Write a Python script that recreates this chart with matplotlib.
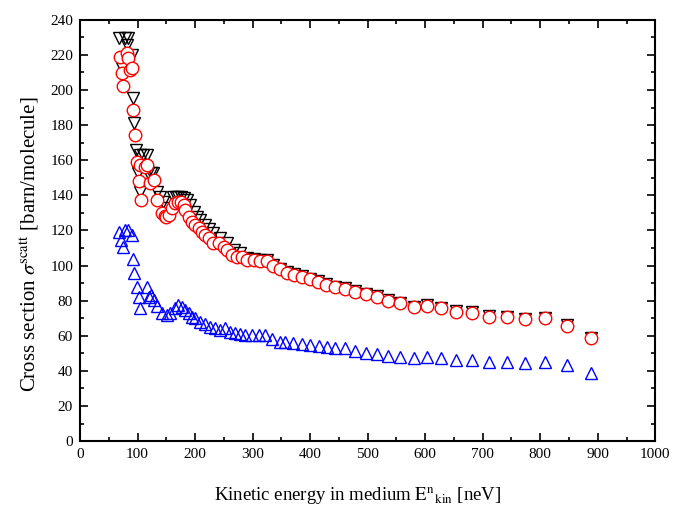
import matplotlib
matplotlib.use('Agg')
import matplotlib.pyplot as plt
from matplotlib.ticker import MultipleLocator

plt.rcParams['font.family'] = ['Liberation Serif', 'DejaVu Serif']
plt.rcParams['mathtext.fontset'] = 'stix'

# black open down-triangles (mostly hidden behind the red circles above ~290 neV)
e_black = [68.5, 72.6, 78.3, 81.3, 84, 91, 92, 94.5, 97, 100, 101.5, 104.5, 104.5, 110, 117,
           119, 124, 127.6, 133.5, 139.3, 145, 150, 162.4, 167, 171, 175, 180, 185.7, 191.5,
           197.3, 203, 209, 217.6, 223.4, 232, 243.7, 255.4, 267, 278.6, 290, 301.7, 313, 325,
           335, 347, 360, 372.6, 386, 399, 413, 428, 444, 461, 478.5, 497, 516, 536, 556.5,
           580, 603, 628, 653, 681, 711, 742, 774, 809, 846, 888]
s_black = [229.6, 212.5, 229.6, 225.8, 229.6, 220, 195.4, 181.1, 165.9, 157.4, 152.6, 163, 142.1,
           163, 163, 152.6, 152.6, 152.6, 142.1, 139.3, 136.4, 133, 139.3, 139.3, 139.3, 139.3,
           138.4, 137.4, 134.5, 130.7, 127.9, 126, 123.1, 120.7, 118.4, 115.6, 112.7, 108.9, 107,
           104.2, 103.8, 103.2, 103.2, 100.2, 98.3, 96.4, 95, 94, 92.6, 91.2, 89.3, 88, 87,
           85.5, 84, 82.6, 80.3, 78.8, 76.6, 77.3, 76, 74.1, 73.5, 71.3, 70.9, 69.8, 70.3,
           66.1, 59]

# red open circles
e_red = [69.6, 72.5, 74, 81, 84, 87, 90, 91.7, 95.7, 98.7, 104.5, 103, 105.6, 113, 117, 121,
         128, 133.5, 142, 147, 150, 154, 159.6, 165.4, 171, 175.3, 180, 183, 188.6, 194.5, 200,
         206, 212, 217.6, 225, 232, 241, 249.5, 255.4, 264, 272.8, 281.5, 290, 301.7, 313, 325,
         335, 347, 360, 372.6, 386, 399, 413, 428, 444, 461, 478.5, 497, 516, 536, 556.5, 580,
         603, 628, 653, 681, 711, 742, 774, 809, 846, 888]
s_red = [219, 209.6, 202.4, 221, 218, 211.5, 212.5, 188.7, 174.5, 159.2, 157, 148, 137.4, 156.4,
         157.4, 147, 148.5, 137.4, 129.8, 128, 127.9, 128.8, 132.7, 135.5, 136.4, 136.4, 134.5,
         131.7, 127.9, 125, 123.1, 121.3, 119.3, 117.4, 115.6, 112.7, 112.7, 110.8, 108.9, 106,
         105, 104.7, 103.4, 103.4, 102.8, 102.8, 99.8, 97.9, 96, 94.6, 93.7, 92.2, 90.8, 88.9,
         87.6, 86.6, 85.1, 83.6, 82.2, 79.9, 78.4, 76.2, 76.9, 75.6, 73.7, 73.1, 70.9, 70.5,
         69.4, 69.9, 65.7, 58.6]

# blue open up-triangles
e_blue = [68.5, 70.8, 74.3, 78.3, 84, 90, 92.8, 94, 98.6, 103.3, 104.5, 116, 120.6, 123, 128.8,
          133.5, 142, 151, 156.7, 165.4, 171, 177, 182.8, 188.6, 194.5, 200, 209, 217.6, 226.3,
          235, 243.7, 252.4, 261, 270, 278.6, 287, 299, 310.4, 322, 333.7, 348, 357, 371, 386,
          400, 415, 429.5, 444, 461, 478.5, 497, 516, 536, 556.5, 580, 603, 628, 653, 681, 711,
          742, 774, 809, 846, 888]
s_blue = [119.3, 114.6, 110.4, 120.3, 120.3, 117.4, 103.6, 96, 87.6, 81.9, 75.6, 87.6, 81.9, 83.2,
          80.4, 77, 72.8, 71.8, 72.8, 75.6, 77.5, 76.6, 74.7, 72.8, 70.9, 70, 68, 66.7, 65.2,
          64.3, 63.3, 64.3, 62.3, 61.4, 61, 60.4, 60.4, 60.4, 60.4, 58, 56.6, 56.6, 55.7, 55.3,
          54.7, 54.3, 53.8, 52.9, 52.9, 51.5, 50.3, 49.6, 48.5, 48.1, 47.1, 48.1, 47.1, 46.2,
          46.2, 45.2, 45.2, 44.6, 45.2, 43.3, 38.9]

fig = plt.figure(figsize=(6.84, 5.07), dpi=100)
ax = fig.add_axes([0.117, 0.130, 0.841, 0.831])

ax.plot(e_black, s_black, 'v', ms=9, mfc='none', mec='black', mew=1.0, ls='none')
ax.plot(e_red, s_red, 'o', ms=9, mfc='white', mec='red', mew=1.0, ls='none')
ax.plot(e_blue, s_blue, '^', ms=9, mfc='none', mec='blue', mew=1.0, ls='none')

ax.set_xlim(0, 1000)
ax.set_ylim(0, 240)
ax.xaxis.set_major_locator(MultipleLocator(100))
ax.xaxis.set_minor_locator(MultipleLocator(50))
ax.yaxis.set_major_locator(MultipleLocator(20))
ax.yaxis.set_minor_locator(MultipleLocator(10))
ax.tick_params(which='both', direction='in', top=True, right=True, labelsize=11, width=1.2)
ax.tick_params(which='major', length=6, pad=5)
ax.tick_params(which='minor', length=3)
for sp in ax.spines.values():
    sp.set_linewidth(1.5)

ax.set_xlabel(r'Kinetic energy in medium $\mathrm{E^{n}{}_{kin}}$ [neV]', fontsize=13.5)
ax.set_ylabel(r'Cross section $\sigma^{\mathrm{scatt}}$ [barn/molecule]', fontsize=15)
ax.xaxis.set_label_coords(0.482, -0.105)
ax.yaxis.set_label_coords(-0.068, 0.466)

plt.savefig('out.png', dpi=100)
